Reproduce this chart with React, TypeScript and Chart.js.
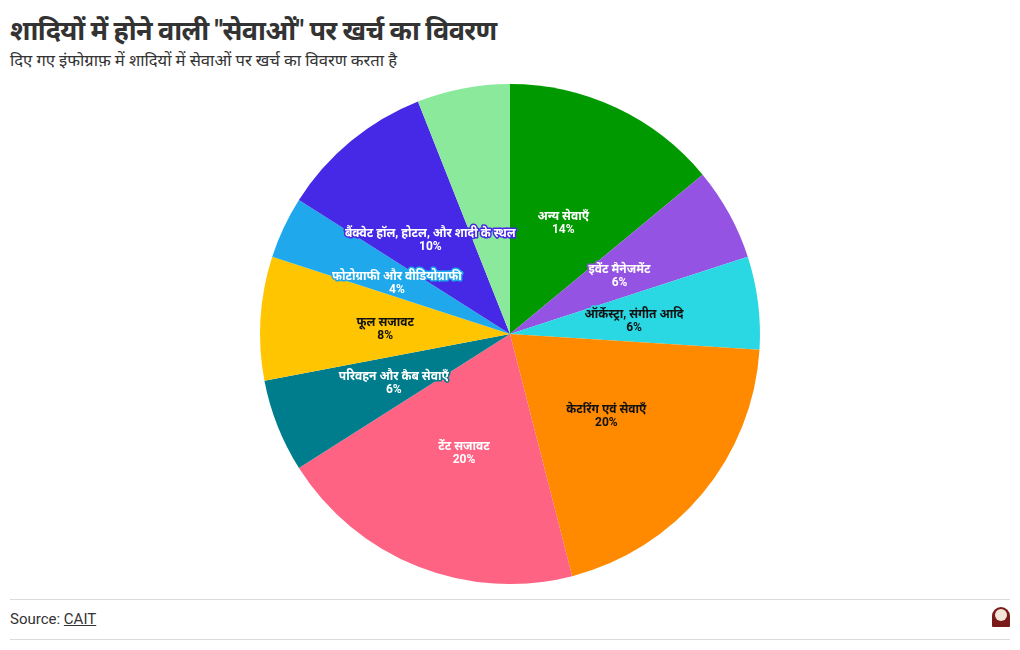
import React, { useEffect, useRef } from "react";
import { Chart, registerables } from "chart.js";

Chart.register(...registerables);

const categories: string[] = [
  "अन्य सेवाएँ",
  "इवेंट मैनेजमेंट",
  "ऑर्केस्ट्रा, संगीत आदि",
  "केटरिंग एवं सेवाएँ",
  "टेंट सजावट",
  "परिवहन और कैब सेवाएँ",
  "फूल सजावट",
  "फोटोग्राफी और वीडियोग्राफी",
  "बैंक्वेट हॉल, होटल, और शादी के स्थल",
  "",
];
const values: number[] = [14, 6, 6, 20, 20, 6, 8, 4, 10, 6];
const colors: string[] = [
  "#009a00",
  "#9553e3",
  "#2ad8e3",
  "#ff8a00",
  "#ff6384",
  "#007d8d",
  "#ffc500",
  "#1fa9ec",
  "#4529e6",
  "#8ae99b",
];
const textColors: string[] = [
  "#ffffff",
  "#ffffff",
  "#111111",
  "#111111",
  "#ffffff",
  "#ffffff",
  "#111111",
  "#ffffff",
  "#ffffff",
  "#111111",
];

const FONT = "Roboto, 'Noto Sans', 'Noto Sans Devanagari', sans-serif";

const labelPlugin = {
  id: "sliceLabels",
  afterDatasetsDraw(chart: any) {
    const ctx = chart.ctx as CanvasRenderingContext2D;
    const meta = chart.getDatasetMeta(0);
    const total = values.reduce((a, b) => a + b, 0);
    meta.data.forEach((arc: any, i: number) => {
      if (!categories[i]) return;
      const { x, y, startAngle, endAngle, outerRadius } = arc.getProps(
        ["x", "y", "startAngle", "endAngle", "outerRadius"],
        true
      );
      const mid = (startAngle + endAngle) / 2;
      const r = outerRadius * 0.5;
      const cx = x + Math.cos(mid) * r;
      const cy = y + Math.sin(mid) * r + 3;
      const pct = Math.round((values[i] / total) * 100) + "%";
      ctx.save();
      ctx.font = `bold 12px ${FONT}`;
      ctx.textAlign = "center";
      ctx.textBaseline = "middle";
      ctx.lineJoin = "round";
      ctx.lineWidth = 3;
      ctx.strokeStyle = colors[i];
      const lines = [categories[i], pct];
      lines.forEach((t, k) => {
        const ly = cy + (k - 0.5) * 13;
        ctx.strokeText(t, cx, ly);
        ctx.fillStyle = textColors[i];
        ctx.fillText(t, cx, ly);
      });
      ctx.restore();
    });
  },
};

export default function App() {
  const ref = useRef<HTMLCanvasElement | null>(null);
  useEffect(() => {
    if (!ref.current) return;
    const chart = new Chart(ref.current, {
      type: "pie",
      data: {
        labels: categories,
        datasets: [
          {
            data: values,
            backgroundColor: colors,
            borderWidth: 0,
          },
        ],
      },
      options: {
        animation: false,
        responsive: false,
        maintainAspectRatio: false,
        layout: { padding: 0 },
        plugins: {
          legend: { display: false },
          tooltip: { enabled: false },
        },
      },
      plugins: [labelPlugin],
    });
    return () => chart.destroy();
  }, []);

  return (
    <div style={{ fontFamily: FONT, position: "relative", width: 1004, height: 634 }}>
      <div
        style={{
          position: "absolute",
          left: 2,
          top: 5,
          fontSize: 27,
          fontWeight: 700,
          color: "#333",
          lineHeight: "36px",
          whiteSpace: "nowrap",
          letterSpacing: -0.7,
        }}
      >
        शादियों में होने वाली "सेवाओं" पर खर्च का विवरण
      </div>
      <div
        style={{
          position: "absolute",
          left: 2,
          top: 42,
          fontSize: 16.6,
          color: "#333",
          lineHeight: "22px",
          whiteSpace: "nowrap",
        }}
      >
        दिए गए इंफोग्राफ़ में शादियों में सेवाओं पर खर्च का विवरण करता है
      </div>
      <canvas
        ref={ref}
        width={1004}
        height={500}
        style={{ position: "absolute", left: 0, top: 76, width: 1004, height: 500 }}
      />
      <div
        style={{
          position: "absolute",
          left: 2,
          top: 591,
          width: 1000,
          height: 39,
          borderTop: "1px solid #dcdcdc",
          borderBottom: "1px solid #dcdcdc",
        }}
      >
        <div
          style={{
            position: "absolute",
            left: 0,
            top: 10,
            fontSize: 15,
            color: "#333",
            lineHeight: "18px",
          }}
        >
          Source: <span style={{ textDecoration: "underline" }}>CAIT</span>
        </div>
        <div
          style={{
            position: "absolute",
            right: 0,
            top: 7,
            width: 18,
            height: 20,
            borderRadius: "9px 9px 1px 1px",
            background: "#7a1a1a",
            overflow: "hidden",
          }}
        >
          <div
            style={{
              position: "absolute",
              left: 3,
              top: 2,
              width: 12,
              height: 12,
              borderRadius: 6,
              background: "#f2e6d8",
            }}
          />
        </div>
      </div>
    </div>
  );
}
